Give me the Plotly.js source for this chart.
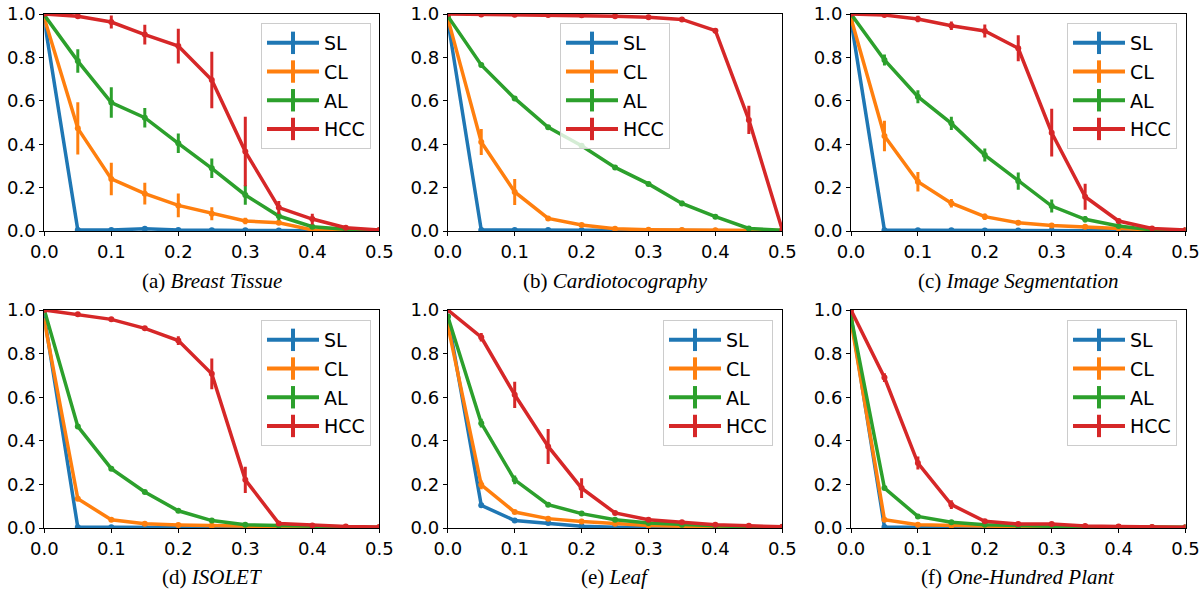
<!DOCTYPE html>
<html>
<head>
<meta charset="utf-8">
<script src="https://cdn.plot.ly/plotly-3.0.1.min.js"></script>
<style>html,body{margin:0;padding:0;background:#fff;}#chart{width:1202px;height:590px;}</style>
</head>
<body>
<div id="chart"></div>
<script>
// ---- data ----
const noiseRate = [0, 0.05, 0.1, 0.15, 0.2, 0.25, 0.3, 0.35, 0.4, 0.45, 0.5];
const methods = ['SL', 'CL', 'AL', 'HCC'];
const captionLabels = ['(a)', '(b)', '(c)', '(d)', '(e)', '(f)'];
const datasetNames = ['Breast Tissue', 'Cardiotocography', 'Image Segmentation', 'ISOLET', 'Leaf', 'One-Hundred Plant'];
const xTicks = [0, 0.1, 0.2, 0.3, 0.4, 0.5];
const yTicks = [0, 0.2, 0.4, 0.6, 0.8, 1.0];

// (a) Breast Tissue
const breastSL = [0.97, 0.005, 0.005, 0.01, 0.005, 0.003, 0.003, 0.002, 0.001, 0.001, 0];
const breastSLerr = [0, 0.003, 0.003, 0.005, 0.003, 0.002, 0.002, 0.001, 0, 0, 0];
const breastCL = [0.98, 0.473, 0.24, 0.172, 0.118, 0.08, 0.046, 0.038, 0.005, 0.002, 0];
const breastCLerr = [0, 0.12, 0.075, 0.05, 0.055, 0.03, 0.015, 0.01, 0.003, 0.001, 0];
const breastAL = [0.995, 0.783, 0.592, 0.522, 0.404, 0.289, 0.166, 0.069, 0.02, 0.008, 0.003];
const breastALerr = [0, 0.054, 0.07, 0.045, 0.045, 0.045, 0.045, 0.02, 0.008, 0.003, 0];
const breastHCC = [1.0, 0.99, 0.963, 0.905, 0.852, 0.696, 0.366, 0.108, 0.055, 0.015, 0.005];
const breastHCCerr = [0, 0.01, 0.03, 0.045, 0.08, 0.13, 0.16, 0.03, 0.025, 0.006, 0.002];

// (b) Cardiotocography
const cardioSL = [0.97, 0.005, 0.005, 0.005, 0.004, 0.003, 0.002, 0.002, 0.001, 0.001, 0];
const cardioSLerr = [0, 0.002, 0.002, 0.002, 0.002, 0.001, 0.001, 0.001, 0, 0, 0];
const cardioCL = [0.98, 0.41, 0.18, 0.058, 0.028, 0.01, 0.006, 0.005, 0.004, 0.003, 0.002];
const cardioCLerr = [0, 0.06, 0.06, 0.01, 0.008, 0.004, 0.002, 0.002, 0.001, 0.001, 0];
const cardioAL = [0.99, 0.765, 0.611, 0.478, 0.393, 0.293, 0.217, 0.127, 0.066, 0.012, 0.003];
const cardioALerr = [0, 0.01, 0.01, 0.01, 0.01, 0.01, 0.01, 0.012, 0.01, 0.005, 0];
const cardioHCC = [1.0, 0.998, 0.997, 0.995, 0.994, 0.99, 0.985, 0.975, 0.923, 0.512, 0.005];
const cardioHCCerr = [0, 0.002, 0.002, 0.003, 0.003, 0.004, 0.006, 0.008, 0.012, 0.065, 0.002];

// (c) Image Segmentation
const imageSL = [0.97, 0.003, 0.003, 0.003, 0.002, 0.002, 0.002, 0.001, 0.001, 0, 0];
const imageSLerr = [0, 0.002, 0.002, 0.002, 0.001, 0.001, 0.001, 0, 0, 0, 0];
const imageCL = [0.98, 0.438, 0.227, 0.128, 0.066, 0.038, 0.025, 0.02, 0.012, 0.005, 0.002];
const imageCLerr = [0, 0.07, 0.045, 0.02, 0.015, 0.008, 0.006, 0.005, 0.004, 0.002, 0];
const imageAL = [1.0, 0.788, 0.619, 0.496, 0.35, 0.23, 0.115, 0.054, 0.023, 0.005, 0.002];
const imageALerr = [0, 0.025, 0.03, 0.03, 0.03, 0.04, 0.03, 0.015, 0.008, 0.003, 0];
const imageHCC = [1.0, 0.995, 0.977, 0.946, 0.922, 0.842, 0.453, 0.158, 0.046, 0.012, 0.005];
const imageHCCerr = [0, 0.005, 0.015, 0.02, 0.03, 0.06, 0.11, 0.06, 0.01, 0.005, 0.002];

// (d) ISOLET
const isoletSL = [0.97, 0.003, 0.003, 0.003, 0.002, 0.002, 0.002, 0.001, 0.001, 0, 0];
const isoletSLerr = [0, 0.001, 0.001, 0.001, 0.001, 0, 0, 0, 0, 0, 0];
const isoletCL = [0.95, 0.134, 0.038, 0.02, 0.014, 0.01, 0.008, 0.006, 0.004, 0.003, 0.002];
const isoletCLerr = [0, 0.008, 0.005, 0.004, 0.003, 0.002, 0.002, 0.001, 0.001, 0, 0];
const isoletAL = [1.0, 0.466, 0.272, 0.165, 0.079, 0.034, 0.015, 0.012, 0.006, 0.003, 0.002];
const isoletALerr = [0, 0.006, 0.006, 0.005, 0.005, 0.004, 0.003, 0.002, 0.001, 0, 0];
const isoletHCC = [1.0, 0.98, 0.957, 0.916, 0.86, 0.707, 0.221, 0.021, 0.012, 0.007, 0.005];
const isoletHCCerr = [0, 0.005, 0.006, 0.008, 0.02, 0.07, 0.06, 0.005, 0.003, 0.002, 0.001];

// (e) Leaf
const leafSL = [0.97, 0.104, 0.034, 0.023, 0.008, 0.004, 0.002, 0.001, 0.001, 0, 0];
const leafSLerr = [0, 0.006, 0.005, 0.004, 0.002, 0.001, 0.001, 0, 0, 0, 0];
const leafCL = [0.93, 0.198, 0.073, 0.043, 0.03, 0.02, 0.012, 0.008, 0.005, 0.003, 0.002];
const leafCLerr = [0, 0.02, 0.008, 0.005, 0.004, 0.003, 0.002, 0.001, 0.001, 0, 0];
const leafAL = [0.97, 0.481, 0.221, 0.107, 0.066, 0.038, 0.023, 0.015, 0.01, 0.006, 0.005];
const leafALerr = [0, 0.02, 0.02, 0.008, 0.006, 0.004, 0.003, 0.002, 0.001, 0.001, 0];
const leafHCC = [1.0, 0.875, 0.611, 0.374, 0.183, 0.069, 0.038, 0.026, 0.015, 0.01, 0.006];
const leafHCCerr = [0, 0.02, 0.06, 0.08, 0.045, 0.008, 0.005, 0.004, 0.003, 0.002, 0.001];

// (f) One-Hundred Plant
const plantSL = [0.97, 0.005, 0.003, 0.002, 0.002, 0.001, 0.001, 0.001, 0, 0, 0];
const plantSLerr = [0, 0.002, 0.001, 0.001, 0.001, 0, 0, 0, 0, 0, 0];
const plantCL = [0.95, 0.038, 0.015, 0.011, 0.008, 0.006, 0.005, 0.004, 0.003, 0.002, 0.002];
const plantCLerr = [0, 0.005, 0.003, 0.002, 0.002, 0.001, 0.001, 0.001, 0, 0, 0];
const plantAL = [0.97, 0.183, 0.053, 0.026, 0.015, 0.01, 0.008, 0.006, 0.005, 0.004, 0.003];
const plantALerr = [0, 0.008, 0.006, 0.004, 0.003, 0.002, 0.002, 0.001, 0.001, 0, 0];
const plantHCC = [1.0, 0.69, 0.298, 0.107, 0.031, 0.018, 0.018, 0.009, 0.007, 0.005, 0.004];
const plantHCCerr = [0, 0.02, 0.03, 0.02, 0.006, 0.004, 0.004, 0.002, 0.001, 0.001, 0.001];

// ---- assemble ----
const panels = [
  [[breastSL, breastSLerr], [breastCL, breastCLerr], [breastAL, breastALerr], [breastHCC, breastHCCerr]],
  [[cardioSL, cardioSLerr], [cardioCL, cardioCLerr], [cardioAL, cardioALerr], [cardioHCC, cardioHCCerr]],
  [[imageSL, imageSLerr], [imageCL, imageCLerr], [imageAL, imageALerr], [imageHCC, imageHCCerr]],
  [[isoletSL, isoletSLerr], [isoletCL, isoletCLerr], [isoletAL, isoletALerr], [isoletHCC, isoletHCCerr]],
  [[leafSL, leafSLerr], [leafCL, leafCLerr], [leafAL, leafALerr], [leafHCC, leafHCCerr]],
  [[plantSL, plantSLerr], [plantCL, plantCLerr], [plantAL, plantALerr], [plantHCC, plantHCCerr]]
];
const colors = ['#1f77b4', '#ff7f0e', '#2ca02c', '#d62728'];

const W = 1202, H = 590;
const colPx = [[44.3, 379.3], [447.8, 782.3], [851, 1185.5]];
const rowPx = [[14, 231], [310, 528]];
const legendLeftPx = [261, 560, 1067, 261, 663, 1067];
const legendTopPx = [23, 23, 23, 320, 320, 320];
const captionYPx = [281, 577];

const tickFont = {family: 'DejaVu Sans', size: 18, color: '#000'};
const traces = [];
const layout = {
  width: W, height: H,
  margin: {l: 0, r: 0, t: 0, b: 0},
  paper_bgcolor: '#fff', plot_bgcolor: '#fff',
  showlegend: true,
  annotations: []
};

panels.forEach((panel, p) => {
  const r = Math.floor(p / 3), c = p % 3;
  const sfx = p === 0 ? '' : String(p + 1);
  const xa = 'x' + sfx, ya = 'y' + sfx;
  const legName = 'legend' + sfx;
  const axCommon = {
    showline: true, mirror: true, linecolor: '#000', linewidth: 1,
    ticks: 'outside', ticklen: 4, tickwidth: 1, tickcolor: '#000',
    showgrid: false, zeroline: false, tickfont: tickFont,
    tickformat: '.1f', fixedrange: true
  };
  layout['xaxis' + sfx] = Object.assign({}, axCommon, {
    domain: [colPx[c][0] / W, colPx[c][1] / W],
    range: [0, 0.5], tickvals: xTicks, anchor: ya
  });
  layout['yaxis' + sfx] = Object.assign({}, axCommon, {
    domain: [1 - rowPx[r][1] / H, 1 - rowPx[r][0] / H],
    range: [0, 1.0], tickvals: yTicks, anchor: xa
  });
  layout[legName] = {
    x: legendLeftPx[p] / W, y: 1 - legendTopPx[p] / H,
    xanchor: 'left', yanchor: 'top',
    bgcolor: 'rgba(255,255,255,0.8)', bordercolor: '#cccccc', borderwidth: 1,
    font: {family: 'DejaVu Sans', size: 19, color: '#000'},
    itemwidth: 52, tracegroupgap: 1
  };
  panel.forEach((s, m) => {
    traces.push({
      type: 'scatter', mode: 'lines+markers', x: noiseRate, y: s[0],
      xaxis: xa, yaxis: ya, name: methods[m], showlegend: false,
      line: {color: colors[m], width: 3.5},
      marker: {color: colors[m], size: 6},
      error_y: {type: 'data', array: s[1], visible: true, color: colors[m], thickness: 3, width: 0},
      cliponaxis: true
    });
  });
  // legend entries (line with a vertical error tick)
  methods.forEach((name, m) => {
    traces.push({
      type: 'scatter', mode: 'lines+markers', x: [null], y: [null],
      xaxis: xa, yaxis: ya, name: name, legend: legName, legendgroup: name + p,
      showlegend: true,
      line: {color: colors[m], width: 4},
      marker: {symbol: 'line-ns', size: 16, color: colors[m], line: {color: colors[m], width: 4}}
    });
  });
  layout.annotations.push({
    xref: 'paper', yref: 'paper',
    x: (colPx[c][0] + colPx[c][1]) / 2 / W, y: 1 - captionYPx[r] / H,
    xanchor: 'center', yanchor: 'middle', showarrow: false,
    text: captionLabels[p] + ' <i>' + datasetNames[p] + '</i>',
    font: {family: 'Liberation Serif', size: 21, color: '#000'}
  });
});

Plotly.newPlot('chart', traces, layout, {staticPlot: true, displayModeBar: false});
</script>
</body>
</html>
